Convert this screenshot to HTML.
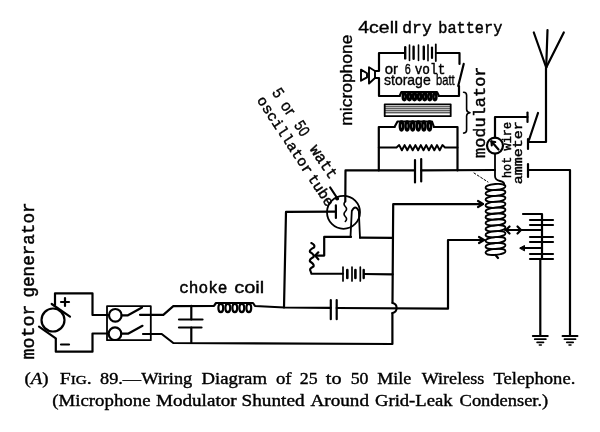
<!DOCTYPE html>
<html><head><meta charset="utf-8"><style>
html,body{margin:0;padding:0;background:#fff;}
svg{display:block;filter:grayscale(100%);}
svg path, svg circle, svg ellipse, svg rect, svg line{fill:none;stroke:#000;stroke-linecap:round;stroke-linejoin:round;}
svg text{fill:#000;stroke:none;}
</style></head><body>
<svg width="600" height="432" viewBox="0 0 600 432">
<rect x="0" y="0" width="600" height="432" style="fill:#fff;stroke:none"/>
<circle cx="53" cy="320" r="11.5" stroke-width="2.2"/>
<path d="M51.7,304.0 L70.0,316.7" stroke-width="2.2" />
<path d="M39.0,326.7 L55.8,338.3" stroke-width="2.2" />
<path d="M55.0,305.0 L55.0,293.3 L92.5,293.3 L92.5,315.0 L108.0,315.0" stroke-width="2.2" />
<path d="M55.8,339.0 L55.8,351.7 L92.5,351.7 L92.5,333.5 L108.0,333.5" stroke-width="2.2" />
<path d="M61.0,302.0 L69.0,302.0" stroke-width="2.2" />
<path d="M65.0,298.0 L65.0,306.0" stroke-width="2.2" />
<path d="M61.0,344.5 L69.0,344.5" stroke-width="2.2" />
<rect x="107" y="306.2" width="43.8" height="34" stroke-width="1.8"/>
<circle cx="115.3" cy="315.3" r="6.3" stroke-width="2.2"/>
<circle cx="115" cy="333.7" r="6.3" stroke-width="2.2"/>
<path d="M121.6,315.3 L128.0,315.3 L142.0,307.5" stroke-width="2.2" />
<path d="M121.3,333.7 L128.0,333.7 L142.5,325.8" stroke-width="2.2" />
<path d="M140.0,314.8 L163.3,314.8 L173.3,306.2 L214.0,305.8 L216.0,303.0 L253.0,303.0 L255.0,306.0 L284.5,307.5 L330.8,307.8" stroke-width="2.2" />
<path d="M143.0,334.0 L161.7,334.0 L173.3,343.0 L392.4,344.0 L392.4,313.0" stroke-width="2.2" />
<path d="M392.4,313 C398,312 398,304 392.5,303" stroke-width="2.1"/>
<path d="M392.5,303.0 L393.2,204.2 L482.0,204.2" stroke-width="2.2" />
<path d="M191.3,305.8 L191.3,319.5" stroke-width="2.2" />
<path d="M179.0,319.5 L202.5,319.5" stroke-width="2.2" />
<path d="M179.0,327.5 L201.5,327.5" stroke-width="2.2" />
<path d="M191.3,327.5 L191.3,342.5" stroke-width="2.2" />
<ellipse cx="220.8" cy="308.0" rx="2.4" ry="4.2" stroke-width="2.2" transform="rotate(0 220.8 308.0)"/>
<ellipse cx="227.8" cy="308.0" rx="2.4" ry="4.2" stroke-width="2.2" transform="rotate(0 227.8 308.0)"/>
<ellipse cx="234.8" cy="308.0" rx="2.4" ry="4.2" stroke-width="2.2" transform="rotate(0 234.8 308.0)"/>
<ellipse cx="241.8" cy="308.0" rx="2.4" ry="4.2" stroke-width="2.2" transform="rotate(0 241.8 308.0)"/>
<ellipse cx="248.8" cy="308.0" rx="2.4" ry="4.2" stroke-width="2.2" transform="rotate(0 248.8 308.0)"/>
<path d="M330.8,300.0 L330.8,319.2" stroke-width="2.2" />
<path d="M336.7,300.0 L336.7,319.2" stroke-width="2.2" />
<path d="M336.7,308.0 L448.0,308.7 L448.0,240.0 L483.0,240.0" stroke-width="2.2" />
<path d="M284.0,307.5 L286.0,211.9 L335.9,211.6" stroke-width="2.2" />
<path d="M335.9,205.4 L335.9,218.0" stroke-width="2.2" />
<circle cx="343.5" cy="212.3" r="16.5" stroke-width="1.8"/>
<path d="M345.3,201.5 L345.5,170.4 L415.0,170.4" stroke-width="2.2" />
<path d="M345.3,201.5 q-2.5,2.5 0,5 q2.5,2.5 0,5 q-2.5,2.5 0,5 q2.5,2.5 0,5" stroke-width="1.6"/>
<path d="M350.5,236.9 L351.8,211 Q355.3,204 358.8,211 L360,237.7" stroke-width="1.8"/>
<path d="M360.0,237.7 L392.8,237.9" stroke-width="2.2" />
<path d="M311.3,243 Q315.5,245 314,247.5 Q309,250 310,252 Q314.5,254.5 313.5,257 Q309,259.5 310,261.5 Q314.5,264 313.5,266.5 Q309,268.5 310.5,271 L311.5,273.8 L343,273.8" stroke-width="2.1"/>
<path d="M351.0,236.9 L324.2,236.9 L324.2,255.6 L315.2,255.6" stroke-width="2.2" />
<path d="M318.3,252.3 L315.2,255.6 L318.3,259.3" stroke-width="2.2" />
<path d="M343.0,267.0 L343.0,281.0" stroke-width="1.7" />
<path d="M347.3,270.0 L347.3,278.0" stroke-width="2.6" />
<path d="M352.0,267.0 L352.0,281.0" stroke-width="1.7" />
<path d="M355.4,270.0 L355.4,278.0" stroke-width="2.6" />
<path d="M360.3,267.0 L360.3,281.0" stroke-width="1.7" />
<path d="M363.7,270.0 L363.7,278.0" stroke-width="2.4" />
<path d="M364.5,274.0 L392.6,274.3" stroke-width="2.2" />
<path d="M421.2,170.4 L495.0,170.0" stroke-width="2.2" />
<path d="M415.0,160.0 L415.0,182.5" stroke-width="2.2" />
<path d="M421.2,159.0 L421.2,181.5" stroke-width="2.2" />
<path d="M378.8,170.4 L378.8,127.0 L394.5,127.0" stroke-width="2.2" />
<path d="M457.5,170.4 L457.5,127.0 L434.0,127.0" stroke-width="2.2" />
<path d="M394.5,127 L397.5,121.5 H432 L434,127" stroke-width="2.1"/>
<ellipse cx="401.5" cy="126.0" rx="1.6" ry="4.4" stroke-width="2.6" transform="rotate(0 401.5 126.0)"/>
<ellipse cx="407.1" cy="126.0" rx="1.6" ry="4.4" stroke-width="2.6" transform="rotate(0 407.1 126.0)"/>
<ellipse cx="412.7" cy="126.0" rx="1.6" ry="4.4" stroke-width="2.6" transform="rotate(0 412.7 126.0)"/>
<ellipse cx="418.3" cy="126.0" rx="1.6" ry="4.4" stroke-width="2.6" transform="rotate(0 418.3 126.0)"/>
<ellipse cx="423.9" cy="126.0" rx="1.6" ry="4.4" stroke-width="2.6" transform="rotate(0 423.9 126.0)"/>
<ellipse cx="429.5" cy="126.0" rx="1.6" ry="4.4" stroke-width="2.6" transform="rotate(0 429.5 126.0)"/>
<path d="M378.8,147.5 L396.5,147.5 L399.2,145.1 L401.9,150.3 L404.6,145.1 L407.3,150.3 L410.0,145.1 L412.7,150.3 L415.4,145.1 L418.1,150.3 L420.8,145.1 L423.5,150.3 L426.2,145.1 L428.9,150.3 L431.6,145.1 L434.3,150.3 L437.0,145.1 L439.7,150.3 L442.4,145.1 L445.0,147.5 L457.5,147.5" stroke-width="2.0" />
<rect x="384.7" y="104.3" width="66" height="11.9" stroke-width="1.8"/>
<path d="M385.0,106.8 L450.0,106.8" stroke-width="0.9" />
<path d="M385.0,108.8 L450.0,108.8" stroke-width="0.9" />
<path d="M385.0,110.8 L450.0,110.8" stroke-width="0.9" />
<path d="M385.0,112.8 L450.0,112.8" stroke-width="0.9" />
<path d="M375.0,71.0 L379.0,71.0 L379.0,53.0 L404.5,53.0" stroke-width="2.2" />
<path d="M436.5,53.0 L459.5,53.0 L459.5,63.9" stroke-width="2.2" />
<path d="M463.7,63.9 L458.2,85.9" stroke-width="2.2" />
<path d="M459.0,86.0 L459.0,96.0 L439.0,96.0" stroke-width="2.2" />
<path d="M375.0,78.0 L379.0,78.0 L379.0,96.0 L399.6,96.0" stroke-width="2.2" />
<path d="M399.6,96 L401.4,92 H437 L439,96" stroke-width="2.1"/>
<ellipse cx="404.3" cy="96.5" rx="1.5" ry="3.6" stroke-width="2.6" transform="rotate(0 404.3 96.5)"/>
<ellipse cx="409.4" cy="96.5" rx="1.5" ry="3.6" stroke-width="2.6" transform="rotate(0 409.4 96.5)"/>
<ellipse cx="414.5" cy="96.5" rx="1.5" ry="3.6" stroke-width="2.6" transform="rotate(0 414.5 96.5)"/>
<ellipse cx="419.6" cy="96.5" rx="1.5" ry="3.6" stroke-width="2.6" transform="rotate(0 419.6 96.5)"/>
<ellipse cx="424.7" cy="96.5" rx="1.5" ry="3.6" stroke-width="2.6" transform="rotate(0 424.7 96.5)"/>
<ellipse cx="429.8" cy="96.5" rx="1.5" ry="3.6" stroke-width="2.6" transform="rotate(0 429.8 96.5)"/>
<ellipse cx="434.9" cy="96.5" rx="1.5" ry="3.6" stroke-width="2.6" transform="rotate(0 434.9 96.5)"/>
<path d="M405.2,47.2 L405.2,58.4" stroke-width="2.4" />
<path d="M409.5,45.1 L409.5,60.5" stroke-width="1.6" />
<path d="M413.6,46.8 L413.6,58.8" stroke-width="2.4" />
<path d="M418.5,45.1 L418.5,60.5" stroke-width="1.6" />
<path d="M423.8,46.6 L423.8,59.0" stroke-width="2.4" />
<path d="M428.0,44.8 L428.0,60.8" stroke-width="1.6" />
<path d="M432.0,47.6 L432.0,58.0" stroke-width="2.2" />
<path d="M435.8,44.5 L435.8,61.1" stroke-width="1.8" />
<path d="M369,67.3 L375,71 L375,78 L369,83.5 Z" stroke-width="1.9"/>
<path d="M361,69.6 L367,73.3 L367,77.4 L361,80.7 Z" stroke-width="1.9"/>
<path d="M463.6,92.3 q3,0 3,3 v14 q0,3 3.4,3.4 q-3.4,0.4 -3.4,3.4 v14 q0,3 -3,3" stroke-width="1.6"/>
<circle cx="495" cy="145.6" r="8" stroke-width="2.2"/>
<path d="M498.5,149.5 L491.5,141.5" stroke-width="2.2" />
<path d="M491.5,141.5 L491.8,145.3" stroke-width="2.2" />
<path d="M491.5,141.5 L495.2,142.0" stroke-width="2.2" />
<path d="M495.0,137.6 L495.0,117.0 L527.5,117.0" stroke-width="2.2" />
<path d="M527.5,112.5 L527.5,122.0" stroke-width="2.2" />
<path d="M538.0,113.0 L529.0,140.0" stroke-width="2.2" />
<path d="M528.0,139.0 L528.0,149.0" stroke-width="2.2" />
<path d="M528.0,142.0 L546.0,142.0 L546.0,67.5" stroke-width="2.2" />
<path d="M546.2,67.5 L533.8,32.5" stroke-width="2.2" />
<path d="M546.2,67.5 L547.5,30.0" stroke-width="2.2" />
<path d="M546.2,67.5 L563.8,32.5" stroke-width="2.2" />
<path d="M528.0,164.0 L528.0,177.0" stroke-width="2.2" />
<path d="M528.0,170.0 L570.0,170.0 L570.0,336.0" stroke-width="2.2" />
<path d="M495,153.6 V176 Q495,180 500,181 Q505,182 504,185" stroke-width="1.8"/>
<ellipse cx="495.5" cy="187.0" rx="10" ry="3.0" stroke-width="1.8" transform="rotate(-5 495.5 187.0)"/>
<ellipse cx="495.5" cy="192.9" rx="10" ry="3.0" stroke-width="1.8" transform="rotate(-5 495.5 192.9)"/>
<ellipse cx="495.5" cy="198.8" rx="10" ry="3.0" stroke-width="1.8" transform="rotate(-5 495.5 198.8)"/>
<ellipse cx="495.5" cy="204.7" rx="10" ry="3.0" stroke-width="1.8" transform="rotate(-5 495.5 204.7)"/>
<ellipse cx="495.5" cy="210.6" rx="10" ry="3.0" stroke-width="1.8" transform="rotate(-5 495.5 210.6)"/>
<ellipse cx="495.5" cy="216.5" rx="10" ry="3.0" stroke-width="1.8" transform="rotate(-5 495.5 216.5)"/>
<ellipse cx="495.5" cy="222.4" rx="10" ry="3.0" stroke-width="1.8" transform="rotate(-5 495.5 222.4)"/>
<ellipse cx="495.5" cy="228.3" rx="10" ry="3.0" stroke-width="1.8" transform="rotate(-5 495.5 228.3)"/>
<ellipse cx="495.5" cy="234.2" rx="10" ry="3.0" stroke-width="1.8" transform="rotate(-5 495.5 234.2)"/>
<ellipse cx="495.5" cy="240.1" rx="10" ry="3.0" stroke-width="1.8" transform="rotate(-5 495.5 240.1)"/>
<ellipse cx="495.5" cy="246.0" rx="10" ry="3.0" stroke-width="1.8" transform="rotate(-5 495.5 246.0)"/>
<ellipse cx="495.5" cy="251.9" rx="10" ry="3.0" stroke-width="1.8" transform="rotate(-5 495.5 251.9)"/>
<path d="M495.5,255.0 L498.0,258.0" stroke-width="2.2" />
<path d="M470.0,204.0 L483.0,204.0" stroke-width="2.2" />
<path d="M478.0,207.0 L483.0,204.0 L478.0,201.0" stroke-width="2.2" />
<path d="M470.0,240.0 L484.0,240.0" stroke-width="2.2" />
<path d="M479.0,243.0 L484.0,240.0 L479.0,237.0" stroke-width="2.2" />
<path d="M505.0,230.0 L542.0,230.0" stroke-width="2.2" />
<path d="M517.5,226.5 L521.0,230.0 L517.5,233.5" stroke-width="2.2" />
<path d="M509.5,226.5 L506.0,230.0 L509.5,233.5" stroke-width="2.2" />
<path d="M474.0,173.0 L488.0,182.0" stroke-width="1" stroke-dasharray="2 2"/>
<path d="M523.0,214.0 L542.0,214.0 L542.0,259.0" stroke-width="2.2" />
<path d="M530.0,220.0 L553.0,220.0" stroke-width="2.2" />
<path d="M530.0,225.0 L553.0,225.0" stroke-width="2.2" />
<path d="M530.0,237.0 L553.0,237.0" stroke-width="2.2" />
<path d="M530.0,242.0 L553.0,242.0" stroke-width="2.2" />
<path d="M530.0,254.0 L553.0,254.0" stroke-width="2.2" />
<path d="M530.0,259.0 L553.0,259.0" stroke-width="2.2" />
<path d="M521.0,248.0 L542.0,248.0" stroke-width="2.2" />
<path d="M520,248 L524.5,245.5 L524.5,250.5 Z" style="fill:#000" stroke-width="1"/>
<path d="M540.3,259.0 L540.3,336.0" stroke-width="2.2" />
<path d="M532.8,336.0 L547.8,336.0" stroke-width="1.9" />
<path d="M534.8,339.2 L545.8,339.2" stroke-width="1.8" />
<path d="M537.1,342.3 L543.5,342.3" stroke-width="1.7" />
<path d="M539.3,345.0 L541.3,345.0" stroke-width="1.5" />
<path d="M562.5,336.0 L577.5,336.0" stroke-width="1.9" />
<path d="M564.5,339.2 L575.5,339.2" stroke-width="1.8" />
<path d="M566.8,342.3 L573.2,342.3" stroke-width="1.7" />
<path d="M569.0,345.0 L571.0,345.0" stroke-width="1.5" />
<text x="0" y="0" font-size="16.5" font-family="Liberation Sans" textLength="40.00" lengthAdjust="spacingAndGlyphs" transform="translate(358.3 33)" style="stroke:#000;stroke-width:0.35">4cell</text>
<text x="0" y="0" font-size="16.5" font-family="Liberation Mono" textLength="29.40" lengthAdjust="spacingAndGlyphs" transform="translate(402.3 33)" style="stroke:#000;stroke-width:0.45">dry</text>
<text x="0" y="0" font-size="16.5" font-family="Liberation Mono" textLength="64.00" lengthAdjust="spacingAndGlyphs" transform="translate(438.3 33)" style="stroke:#000;stroke-width:0.45">battery</text>
<text x="0" y="0" font-size="14" font-family="Liberation Sans" textLength="13.30" lengthAdjust="spacingAndGlyphs" transform="translate(384.7 74)" style="stroke:#000;stroke-width:0.35">or</text>
<text x="0" y="0" font-size="14" font-family="Liberation Sans" textLength="6.00" lengthAdjust="spacingAndGlyphs" transform="translate(404.7 74)" style="stroke:#000;stroke-width:0.35">6</text>
<text x="0" y="0" font-size="14" font-family="Liberation Mono" textLength="30.60" lengthAdjust="spacingAndGlyphs" transform="translate(414.7 74)" style="stroke:#000;stroke-width:0.45">volt</text>
<text x="0" y="0" font-size="15" font-family="Liberation Sans" textLength="46.70" lengthAdjust="spacingAndGlyphs" transform="translate(384 85.3)" style="stroke:#000;stroke-width:0.35">storage</text>
<text x="0" y="0" font-size="15" font-family="Liberation Sans" textLength="18.70" lengthAdjust="spacingAndGlyphs" transform="translate(436 85.3)" style="stroke:#000;stroke-width:0.35">batt</text>
<text x="0" y="0" font-size="16" font-family="Liberation Mono" textLength="48.30" lengthAdjust="spacingAndGlyphs" transform="translate(179.2 292.5)" style="stroke:#000;stroke-width:0.45">choke</text>
<text x="0" y="0" font-size="16" font-family="Liberation Sans" textLength="30.00" lengthAdjust="spacingAndGlyphs" transform="translate(234.2 292.5)" style="stroke:#000;stroke-width:0.35">coil</text>
<text x="0" y="0" font-size="17" font-family="Liberation Sans" textLength="91.10" lengthAdjust="spacingAndGlyphs" transform="translate(352 125.7) rotate(-90)" style="stroke:#000;stroke-width:0.35">microphone</text>
<text x="0" y="0" font-size="17" font-family="Liberation Mono" textLength="91.50" lengthAdjust="spacingAndGlyphs" transform="translate(485.4 158) rotate(-90)" style="stroke:#000;stroke-width:0.45">modulator</text>
<text x="0" y="0" font-size="12.5" font-family="Liberation Mono" textLength="21.30" lengthAdjust="spacingAndGlyphs" transform="translate(511.2 178) rotate(-90)" style="stroke:#000;stroke-width:0.45">hot</text>
<text x="0" y="0" font-size="12.5" font-family="Liberation Mono" textLength="28.60" lengthAdjust="spacingAndGlyphs" transform="translate(511.2 150.5) rotate(-90)" style="stroke:#000;stroke-width:0.45">wire</text>
<text x="0" y="0" font-size="12.5" font-family="Liberation Mono" textLength="63.20" lengthAdjust="spacingAndGlyphs" transform="translate(522 184.3) rotate(-90)" style="stroke:#000;stroke-width:0.45">ammeter</text>
<text x="0" y="0" font-size="17.7" font-family="Liberation Mono" textLength="54.90" lengthAdjust="spacingAndGlyphs" transform="translate(34.2 359.4) rotate(-90)" style="stroke:#000;stroke-width:0.45">motor</text>
<text x="0" y="0" font-size="17.7" font-family="Liberation Mono" textLength="95.20" lengthAdjust="spacingAndGlyphs" transform="translate(34.2 297.6) rotate(-90)" style="stroke:#000;stroke-width:0.45">generator</text>
<text x="0" y="0" font-size="16" font-family="Liberation Sans" textLength="8.00" lengthAdjust="spacingAndGlyphs" transform="translate(271.5 92.5) rotate(56.3)" style="stroke:#000;stroke-width:0.35">5</text>
<text x="0" y="0" font-size="16" font-family="Liberation Sans" textLength="13.50" lengthAdjust="spacingAndGlyphs" transform="translate(280.1 105.4) rotate(56.3)" style="stroke:#000;stroke-width:0.35">or</text>
<text x="0" y="0" font-size="16" font-family="Liberation Sans" textLength="14.50" lengthAdjust="spacingAndGlyphs" transform="translate(293.42 125.36) rotate(56.3)" style="stroke:#000;stroke-width:0.35">50</text>
<text x="0" y="0" font-size="16" font-family="Liberation Mono" textLength="37.00" lengthAdjust="spacingAndGlyphs" transform="translate(309.23 149.07) rotate(56.3)" style="stroke:#000;stroke-width:0.45">watt</text>
<text x="0" y="0" font-size="14.5" font-family="Liberation Mono" textLength="90.00" lengthAdjust="spacingAndGlyphs" transform="translate(256.5 100.1) rotate(56.8)" style="stroke:#000;stroke-width:0.45">oscillator</text>
<text x="0" y="0" font-size="14.5" font-family="Liberation Mono" textLength="35.70" lengthAdjust="spacingAndGlyphs" transform="translate(307.42 177.92) rotate(56.8)" style="stroke:#000;stroke-width:0.45">tube</text>
<path d="M330.2,187.5 L337.8,199.0" stroke-width="2.2" />
<circle cx="337" cy="198.5" r="1.5" style="fill:#000"/>
<text x="24.5" y="384.2" font-size="17.5" font-family="Liberation Serif" font-weight="normal" textLength="24.0" lengthAdjust="spacingAndGlyphs" style="stroke:#000;stroke-width:0.4" >(<tspan font-style="italic">A</tspan>)</text>
<text x="59.8" y="384.2" font-size="17.5" font-family="Liberation Serif" font-weight="normal" textLength="32.0" lengthAdjust="spacingAndGlyphs" style="stroke:#000;stroke-width:0.4" >F<tspan font-size="13.5">IG</tspan>.</text>
<text x="100" y="384.2" font-size="17.5" font-family="Liberation Serif" font-weight="normal" textLength="92.2" lengthAdjust="spacingAndGlyphs" style="stroke:#000;stroke-width:0.4" >89.—Wiring</text>
<text x="201.5" y="384.2" font-size="17.5" font-family="Liberation Serif" font-weight="normal" textLength="65.5" lengthAdjust="spacingAndGlyphs" style="stroke:#000;stroke-width:0.4" >Diagram</text>
<text x="276" y="384.2" font-size="17.5" font-family="Liberation Serif" font-weight="normal" textLength="15.6" lengthAdjust="spacingAndGlyphs" style="stroke:#000;stroke-width:0.4" >of</text>
<text x="299.8" y="384.2" font-size="17.5" font-family="Liberation Serif" font-weight="normal" textLength="17.8" lengthAdjust="spacingAndGlyphs" style="stroke:#000;stroke-width:0.4" >25</text>
<text x="325.8" y="384.2" font-size="17.5" font-family="Liberation Serif" font-weight="normal" textLength="15.7" lengthAdjust="spacingAndGlyphs" style="stroke:#000;stroke-width:0.4" >to</text>
<text x="350.7" y="384.2" font-size="17.5" font-family="Liberation Serif" font-weight="normal" textLength="17.8" lengthAdjust="spacingAndGlyphs" style="stroke:#000;stroke-width:0.4" >50</text>
<text x="377.3" y="384.2" font-size="17.5" font-family="Liberation Serif" font-weight="normal" textLength="34.1" lengthAdjust="spacingAndGlyphs" style="stroke:#000;stroke-width:0.4" >Mile</text>
<text x="421.7" y="384.2" font-size="17.5" font-family="Liberation Serif" font-weight="normal" textLength="62.6" lengthAdjust="spacingAndGlyphs" style="stroke:#000;stroke-width:0.4" >Wireless</text>
<text x="493.5" y="384.2" font-size="17.5" font-family="Liberation Serif" font-weight="normal" textLength="81.8" lengthAdjust="spacingAndGlyphs" style="stroke:#000;stroke-width:0.4" >Telephone.</text>
<text x="52.3" y="405.8" font-size="17.5" font-family="Liberation Serif" font-weight="normal" textLength="98.2" lengthAdjust="spacingAndGlyphs" style="stroke:#000;stroke-width:0.4" >(Microphone</text>
<text x="156" y="405.8" font-size="17.5" font-family="Liberation Serif" font-weight="normal" textLength="80.6" lengthAdjust="spacingAndGlyphs" style="stroke:#000;stroke-width:0.4" >Modulator</text>
<text x="241.5" y="405.8" font-size="17.5" font-family="Liberation Serif" font-weight="normal" textLength="63.1" lengthAdjust="spacingAndGlyphs" style="stroke:#000;stroke-width:0.4" >Shunted</text>
<text x="310.5" y="405.8" font-size="17.5" font-family="Liberation Serif" font-weight="normal" textLength="58.5" lengthAdjust="spacingAndGlyphs" style="stroke:#000;stroke-width:0.4" >Around</text>
<text x="375" y="405.8" font-size="17.5" font-family="Liberation Serif" font-weight="normal" textLength="77.5" lengthAdjust="spacingAndGlyphs" style="stroke:#000;stroke-width:0.4" >Grid-Leak</text>
<text x="459.6" y="405.8" font-size="17.5" font-family="Liberation Serif" font-weight="normal" textLength="88.6" lengthAdjust="spacingAndGlyphs" style="stroke:#000;stroke-width:0.4" >Condenser.)</text>
</svg>
</body></html>
